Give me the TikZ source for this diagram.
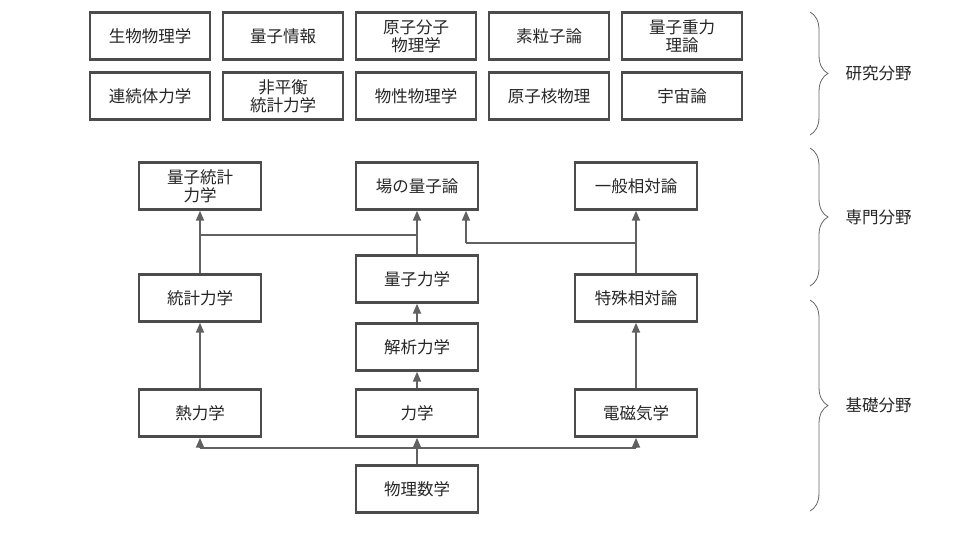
\documentclass[tikz,border=0pt]{standalone}
\usepackage{fontspec}
\setmainfont{Noto Sans CJK JP}
\usetikzlibrary{arrows.meta,decorations.pathreplacing}
\begin{document}
\begin{tikzpicture}[x=1pt,y=-1pt,
 box/.style={draw=black!70,line width=2.4pt,minimum width=120pt,minimum height=47pt,inner sep=1pt,align=center,font=\fontsize{16.5}{18}\selectfont,text=black!85},
 bx/.style={box,minimum width=122pt},
 con/.style={draw=black!62,line width=2pt},
 arr/.style={con,-{Triangle[width=8pt,length=10pt]}},
 br/.style={draw=black!60,line width=0.8pt,decorate,decoration={brace,amplitude=18pt}},
 lab/.style={font=\fontsize{16.5}{18}\selectfont,text=black!85}]
\useasboundingbox (0,0) rectangle (960,540);
% research fields
\node[box] (r1) at (150,36) {生物物理学};
\node[box] (r2) at (283,36) {量子情報};
\node[box] (r3) at (416,36) {原子分子\\物理学};
\node[box] (r4) at (549,36) {素粒子論};
\node[box] (r5) at (682,36) {量子重力\\理論};
\node[box] (s1) at (150,96) {連続体力学};
\node[box] (s2) at (283,96) {非平衡\\統計力学};
\node[box] (s3) at (416,96) {物性物理学};
\node[box] (s4) at (549,96) {原子核物理};
\node[box] (s5) at (682,96) {宇宙論};
% main
\node[bx] (qsm) at (200,186) {量子統計\\力学};
\node[bx] (qft) at (417,186) {場の量子論};
\node[bx] (gr) at (636,186) {一般相対論};
\node[bx] (qm) at (417,279) {量子力学};
\node[bx] (sm) at (200,298) {統計力学};
\node[bx] (sr) at (636,298) {特殊相対論};
\node[bx] (am) at (417,347) {解析力学};
\node[bx] (th) at (200,413) {熱力学};
\node[bx] (me) at (417,413) {力学};
\node[bx] (em) at (636,413) {電磁気学};
\node[bx] (pm) at (417,489) {物理数学};
% connectors
\coordinate (j1) at (417,235);
\coordinate (j1l) at (200,235);
\coordinate (j2) at (636,243);
\coordinate (j2l) at (466,243);
\coordinate (j3) at (417,448);
\coordinate (j3l) at (200,448);
\coordinate (j3r) at (636,448);
\draw[arr] (sm) -- (qsm);
\draw[arr] (qm) -- (qft);
\draw[con] (j1) -- (j1l);
\draw[arr] (sr) -- (gr);
\draw[con] (j2) -- (j2l);
\draw[arr] (j2l) -- (j2l |- qft.south);
\draw[arr] (am) -- (qm);
\draw[arr] (me) -- (am);
\draw[arr] (th) -- (sm);
\draw[arr] (em) -- (sr);
\draw[arr] (pm) -- (me);
\draw[con] (j3l) -- (j3r);
\draw[arr] (j3l) -- (th);
\draw[arr] (j3r) -- (em);
% braces
\draw[br] (810,12) -- (810,135) node[midway,right=32pt,lab] (l1) {研究分野};
\draw[br] (810,148) -- (810,286) node[midway,right=32pt,lab] (l2) {専門分野};
\draw[br] (810,300) -- (810,511) node[midway,right=32pt,lab] (l3) {基礎分野};
\end{tikzpicture}
\end{document}
